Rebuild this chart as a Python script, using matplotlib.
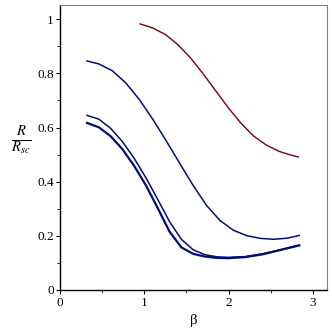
import matplotlib
matplotlib.use("Agg")
import matplotlib.pyplot as plt
from matplotlib.ticker import MultipleLocator

plt.rcParams['font.family'] = ['Liberation Serif', 'DejaVu Serif']
plt.rcParams['mathtext.fontset'] = 'stix'

# data
beta_a = [0.32, 0.46, 0.62, 0.78, 0.94, 1.10, 1.26, 1.42, 1.58, 1.74, 1.90, 2.06, 2.22,
          2.38, 2.54, 2.70, 2.84]
r_a = [0.846, 0.835, 0.810, 0.765, 0.704, 0.631, 0.551, 0.468, 0.386, 0.312, 0.256, 0.220, 0.200,
       0.190, 0.187, 0.191, 0.201]

beta_b = [0.32, 0.46, 0.60, 0.74, 0.88, 1.02, 1.16, 1.30, 1.44, 1.58, 1.72, 1.86, 2.00,
          2.20, 2.40, 2.60, 2.84]
r_b = [0.645, 0.631, 0.597, 0.548, 0.486, 0.414, 0.334, 0.252, 0.187, 0.148, 0.130, 0.122, 0.120,
       0.123, 0.133, 0.147, 0.166]

beta_c = [0.32, 0.46, 0.60, 0.74, 0.88, 1.02, 1.16, 1.30, 1.44, 1.58, 1.72, 1.86, 2.00,
          2.20, 2.40, 2.60, 2.84]
r_c = [0.617, 0.601, 0.568, 0.520, 0.458, 0.386, 0.302, 0.215, 0.157, 0.133, 0.123, 0.118, 0.117,
       0.121, 0.131, 0.146, 0.164]

beta_d = [0.95, 1.10, 1.25, 1.40, 1.55, 1.70, 1.85, 2.00, 2.15, 2.30, 2.45, 2.60, 2.72, 2.83]
r_d = [0.983, 0.968, 0.944, 0.906, 0.857, 0.798, 0.735, 0.672, 0.615, 0.568, 0.535, 0.512, 0.500,
       0.491]

blue = '#000E78'
red = '#78000E'

fig = plt.figure(figsize=(3.32, 3.32), dpi=100)
ax = fig.add_axes([0.181, 0.127, 0.804, 0.858])

ax.plot(beta_a, r_a, color=blue, lw=1.1)
ax.plot(beta_b, r_b, color=blue, lw=1.1)
ax.plot(beta_c, r_c, color=blue, lw=1.6)
ax.plot(beta_d, r_d, color=red, lw=1.0)

ax.set_xlim(0, 3.17)
ax.set_ylim(0, 1.053)
ax.xaxis.set_minor_locator(MultipleLocator(0.5))
ax.yaxis.set_minor_locator(MultipleLocator(0.1))
ax.set_yticks([0, 0.2, 0.4, 0.6, 0.8, 1.0])
ax.set_yticklabels(['0', '0.2', '0.4', '0.6', '0.8', '1'])
ax.set_xticks([0, 1, 2, 3])
ax.set_xticklabels(['0', '1', '2', '3'])
ax.tick_params(which='major', length=3, width=0.8, labelsize=9.5, pad=1.5, direction='out')
ax.tick_params(which='minor', length=2, width=0.6, direction='out')
ax.tick_params(axis='x', pad=2)

for s in ['left', 'bottom']:
    ax.spines[s].set_color('black')
    ax.spines[s].set_linewidth(1.0)
for s in ['top', 'right']:
    ax.spines[s].set_color('#808080')
    ax.spines[s].set_linewidth(0.8)

ax.set_xlabel('β', fontsize=10.5, labelpad=4)
fig.text(0.065, 0.575, r'$\frac{R}{R_{sc}}$', fontsize=15, ha='center', va='center')

fig.savefig('out.png', dpi=100)
